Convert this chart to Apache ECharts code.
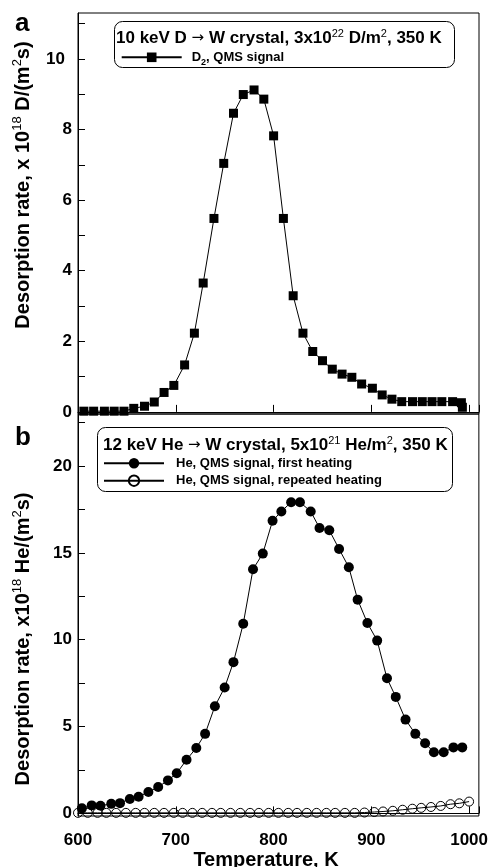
<!DOCTYPE html>
<html><head><meta charset="utf-8">
<script src="https://cdn.jsdelivr.net/npm/echarts@6/dist/echarts.min.js"></script>
<style>html,body{margin:0;padding:0;background:#fff}#c{width:491px;height:867px}</style>
</head><body><div id="c"></div>
<script>
// Panel a: D2 QMS signal (temperature K, rate x1e18 D/(m^2 s))
const dTemp = [606,616,627,637,647,657,668,678,688,698,709,719,728,739,749,759,769,780,790,800,810,820,830,840,850,860,870,880,890,901,911,921,931,942,952,962,972,983,992,993];
const dRate = [0.02,0.02,0.02,0.02,0.02,0.1,0.16,0.28,0.55,0.75,1.33,2.23,3.65,5.48,7.04,8.46,8.99,9.12,8.86,7.82,5.48,3.29,2.23,1.71,1.45,1.21,1.07,0.98,0.79,0.67,0.48,0.36,0.29,0.29,0.29,0.29,0.29,0.29,0.26,0.13];
// Panel b: He first heating
const heTemp = [604,614,623,634,643,653,662,672,682,692,701,711,721,730,740,750,759,769,779,789,799,808,818,827,838,847,857,867,877,886,896,906,916,925,935,945,955,964,974,984,993];
const heFirst = [0.29,0.46,0.44,0.55,0.59,0.83,0.96,1.23,1.52,1.9,2.31,3.09,3.77,4.58,6.17,7.25,8.71,10.92,14.06,14.96,16.85,17.39,17.92,17.92,17.39,16.44,16.31,15.23,14.17,12.31,10.96,9.95,7.78,6.71,5.4,4.58,4.04,3.52,3.52,3.8,3.8];
// Panel b: He repeated heating
const heRepTemp = [600,610,620,629,639,649,659,668,678,688,698,707,717,727,737,746,756,766,776,785,795,805,815,824,834,844,854,863,873,883,893,903,912,922,932,942,951,961,971,981,990,1000];
const heRep = [0.03,0.03,0.03,0.03,0.03,0.03,0.03,0.03,0.03,0.03,0.03,0.03,0.03,0.03,0.03,0.03,0.03,0.03,0.03,0.03,0.03,0.03,0.03,0.03,0.03,0.03,0.03,0.03,0.03,0.03,0.05,0.08,0.11,0.15,0.21,0.27,0.32,0.37,0.43,0.53,0.58,0.68];
// Ticks
const xTickLabels = [600,700,800,900,1000];
const yTopTicks = [0,1,2,3,4,5,6,7,8,9,10,11];
const yTopLabels = [0,2,4,6,8,10];
const yBotTicks = [0,2.5,5,7.5,10,12.5,15,17.5,20,22.5];
const yBotLabels = [0,5,10,15,20];

const zip = (a,b) => a.map((v,i)=>[v,b[i]]);
const FF = '"Liberation Sans", Arial, sans-serif';
const chart = echarts.init(document.getElementById('c'), null, {renderer:'canvas'});
const axLine = {show:true, lineStyle:{color:'#000', width:1}};
const tickLbl = {color:'#000', fontSize:17, fontWeight:'bold', fontFamily:FF};
const supRich = {sup:{fontSize:11, verticalAlign:'top', lineHeight:12}, ar:{fontFamily:'DejaVu Sans', fontWeight:'normal', fontSize:15}};
const ySupRich = {sup:{fontSize:13, verticalAlign:'top', lineHeight:14}};

chart.setOption({
  animation:false,
  backgroundColor:'#fff',
  grid:[
    {left:78, top:13, width:401, height:401, show:true, borderColor:'#000', borderWidth:1, backgroundColor:'transparent'},
    {left:78, top:414, width:401, height:402, show:true, borderColor:'#000', borderWidth:1, backgroundColor:'transparent'}
  ],
  xAxis:[
    {gridIndex:0, type:'value', min:600, max:1010, interval:100, axisLine:axLine,
     axisTick:{inside:true, length:7, lineStyle:{color:'#000'}}, axisLabel:{show:false}, splitLine:{show:false}},
    {gridIndex:1, type:'value', min:600, max:1010, interval:100, axisLine:axLine,
     axisTick:{inside:true, length:7, lineStyle:{color:'#000'}},
     axisLabel:Object.assign({margin:16, customValues:xTickLabels, formatter:v=>String(v)}, tickLbl), splitLine:{show:false}}
  ],
  yAxis:[
    {gridIndex:0, type:'value', min:-0.06, max:11.3, axisLine:axLine,
     axisTick:{inside:true, length:7, customValues:yTopTicks, lineStyle:{color:'#000'}},
     axisLabel:Object.assign({margin:6, customValues:yTopLabels, formatter:v=> v===10 ? '{p|10}' : String(v),
       rich:{p:{padding:[0,7,0,0], fontSize:17, fontWeight:'bold', fontFamily:FF, color:'#000'}}}, tickLbl),
     splitLine:{show:false}},
    {gridIndex:1, type:'value', min:-0.15, max:23, axisLine:axLine,
     axisTick:{inside:true, length:7, customValues:yBotTicks, lineStyle:{color:'#000'}},
     axisLabel:Object.assign({margin:6, customValues:yBotLabels, formatter:v=>String(v)}, tickLbl), splitLine:{show:false}}
  ],
  legend:[
    {data:['D2'], left:120.7, top:47.3, orient:'vertical', padding:0, itemWidth:60, itemHeight:12,
     selectedMode:false, z:10,
     formatter:()=> 'D{sub|2}, QMS signal',
     textStyle:{color:'#000', fontSize:13, fontWeight:'bold', fontFamily:FF, lineHeight:20, padding:[0,0,0,5],
       rich:{sub:{fontSize:9, fontWeight:'bold', fontFamily:FF, verticalAlign:'bottom', lineHeight:10}}}},
    {data:['He, QMS signal, first heating','He, QMS signal, repeated heating'], left:103, top:456.3, orient:'vertical',
     padding:0, itemWidth:60, itemHeight:13, itemGap:3.4, selectedMode:false, z:10,
     textStyle:{color:'#000', fontSize:13, fontWeight:'bold', fontFamily:FF, lineHeight:14, padding:[0,0,0,7]}}
  ],
  series:[
    {name:'D2', type:'line', xAxisIndex:0, yAxisIndex:0, data:zip(dTemp,dRate), symbol:'rect', symbolSize:9,
     itemStyle:{color:'#000'}, lineStyle:{color:'#000', width:1}, z:3},
    {name:'He, QMS signal, first heating', type:'line', xAxisIndex:1, yAxisIndex:1, data:zip(heTemp,heFirst),
     symbol:'circle', symbolSize:10, itemStyle:{color:'#000'}, lineStyle:{color:'#000', width:1}, z:3},
    {name:'He, QMS signal, repeated heating', type:'line', xAxisIndex:1, yAxisIndex:1, data:zip(heRepTemp,heRep),
     symbol:'circle', symbolSize:9, itemStyle:{color:'rgba(0,0,0,0)', borderColor:'#000', borderWidth:1},
     lineStyle:{color:'#000', width:1}, z:3}
  ],
  graphic:[
    {type:'rect', z:5, shape:{x:114.5, y:21.5, width:340, height:46, r:8}, style:{fill:'#fff', stroke:'#000', lineWidth:1}},
    {type:'rect', z:5, shape:{x:97.5, y:427.5, width:355, height:64, r:8}, style:{fill:'#fff', stroke:'#000', lineWidth:1}},
    {type:'text', z:6, x:116, y:38, style:{text:'10 keV D {ar|→} W crystal, 3x10{sup|22} D/m{sup|2}, 350 K',
      fontSize:17, fontWeight:'bold', fontFamily:FF, fill:'#000', lineHeight:20, align:'left', verticalAlign:'middle', rich:supRich}},
    {type:'text', z:6, x:103, y:445, style:{text:'12 keV He {ar|→} W crystal, 5x10{sup|21} He/m{sup|2}, 350 K',
      fontSize:17, fontWeight:'bold', fontFamily:FF, fill:'#000', lineHeight:20, align:'left', verticalAlign:'middle', rich:supRich}},
    {type:'text', z:6, x:23, y:185, rotation:Math.PI/2, style:{text:'Desorption rate, x 10{sup|18} D/(m{sup|2}s)',
      fontSize:20, fontWeight:'bold', fontFamily:FF, fill:'#000', lineHeight:24, align:'center', verticalAlign:'middle',
      rich:ySupRich}},
    {type:'text', z:6, x:23, y:639, rotation:Math.PI/2, style:{text:'Desorption rate, x10{sup|18} He/(m{sup|2}s)',
      fontSize:20, fontWeight:'bold', fontFamily:FF, fill:'#000', lineHeight:24, align:'center', verticalAlign:'middle',
      rich:ySupRich}},
    {type:'text', z:6, x:266, y:860, style:{text:'Temperature, K', fontSize:20, fontWeight:'bold', fontFamily:FF,
      fill:'#000', align:'center', verticalAlign:'middle'}},
    {type:'text', z:6, x:15, y:24, style:{text:'a', fontSize:26, fontWeight:'bold', fontFamily:FF, fill:'#000', align:'left', verticalAlign:'middle'}},
    {type:'text', z:6, x:15, y:438, style:{text:'b', fontSize:26, fontWeight:'bold', fontFamily:FF, fill:'#000', align:'left', verticalAlign:'middle'}}
  ]
});
</script></body></html>
